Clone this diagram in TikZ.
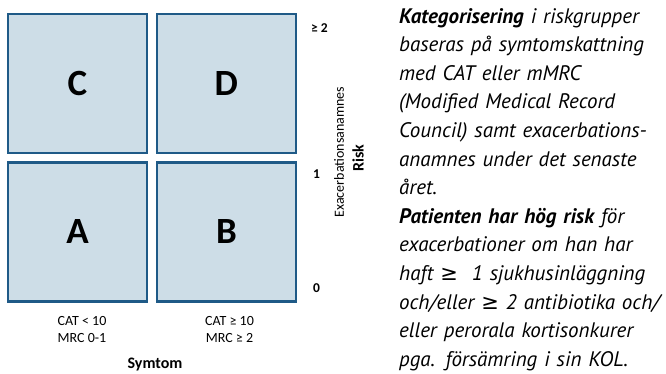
\documentclass[tikz,border=0pt]{standalone}
\usepackage{fontspec}
\setmainfont{Carlito}
\newfontfamily\gillfont{PT Sans}
\newfontfamily\symfont{DejaVu Sans}
\usetikzlibrary{positioning}
\definecolor{boxfill}{RGB}{205,221,231}
\definecolor{boxline}{RGB}{31,90,135}

\begin{document}
\begin{tikzpicture}[
		x=1pt, y=-1pt,
		quad/.style={rectangle, draw=boxline, fill=boxfill, line width=2.4pt, minimum size=139pt, inner sep=0pt, font=\fontsize{37}{37}\selectfont\bfseries},
		tick/.style={anchor=west, font=\fontsize{13.5}{13.5}\selectfont\bfseries},
		cond/.style={align=center, font=\fontsize{14}{17}\selectfont},
		axis/.style={font=\fontsize{16}{16}\selectfont\bfseries},
		note/.style={anchor=north west, align=left, text width=300pt, inner sep=0pt, font=\gillfont\itshape\fontsize{21}{28.6}\selectfont}
		]
		\useasboundingbox (0,0) rectangle (666,374);
		
		% Kvadranter
		\node[quad] (C) at (77.5,83.5) {C};
		\node[quad, right=7.5pt of C] (D) {D};
		\node[quad, below=7pt of C] (A) {A};
		\node[quad, right=7.5pt of A] (B) {B};
		
		% Risk-axel
		\node[tick] (r2) at (307.5,28) {≥ 2};
		\node[tick] (r1) at (309.5,174) {1};
		\node[tick] (r0) at (309.5,288) {0};
		\node[rotate=90, font=\fontsize{14}{14}\selectfont] (exac) at (339,152) {Exacerbationsanamnes};
		\node[axis, rotate=90] (risk) at (358,158) {Risk};
		
		% Symtom-axel
		\node[cond] (low) at (82,330) {CAT < 10\\MRC 0-1};
		\node[cond] (high) at (229.5,330) {CAT ≥ 10\\MRC ≥ 2};
		\node[axis] (sym) at (155,365) {Symtom};
		
		% Text
		\node[note] (txt) at (399,8) {\textbf{Kategorisering} i riskgrupper\\
			baseras på symtomskattning\\
			med CAT eller mMRC\\
			(Modified Medical Record\\
			Council) samt exacerbations-\\
			anamnes under det senaste\\
			året.\\
			\textbf{Patienten har hög risk} för\\
			exacerbationer om han har\\
			haft {\symfont ≥}\ \ 1 sjukhusinläggning\\
			och/eller {\symfont ≥} 2 antibiotika och/\\
			eller perorala kortisonkurer\\
			pga. försämring i sin KOL.};
		
	\end{tikzpicture}
\end{document}
